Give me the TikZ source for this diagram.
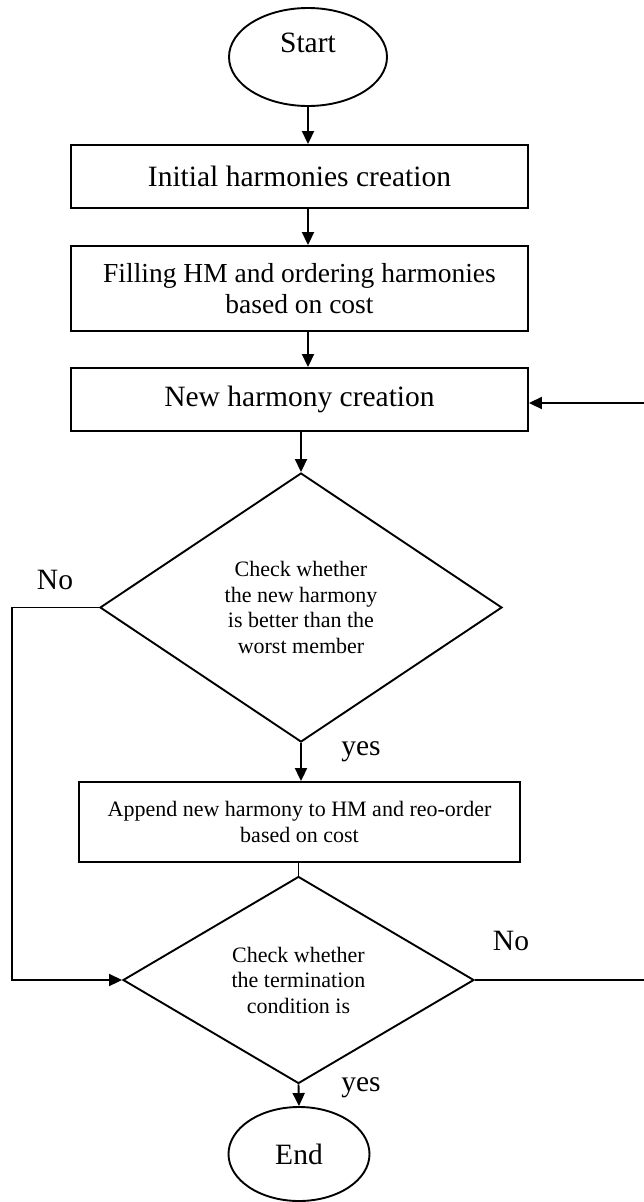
\documentclass[tikz,border=0pt]{standalone}
\usepackage{fontspec}
\setmainfont{Liberation Serif}
\usetikzlibrary{arrows.meta,positioning,shapes.geometric}
\newcommand{\fcbig}{\fontsize{29.5}{31}\selectfont}
\newcommand{\fcmid}{\fontsize{27.5}{31}\selectfont}
\newcommand{\fcsmall}{\fontsize{22}{25.5}\selectfont}
\tikzset{
  flowbox/.style={draw, line width=1.9pt, rectangle, align=center,
    minimum width=457pt, inner sep=0pt},
  termbox/.style={draw, line width=1.9pt, ellipse, inner sep=0pt},
  checkbox/.style={draw, line width=1.9pt, diamond, align=center,
    inner sep=0pt, font=\fcsmall},
  lbl/.style={font=\fcbig, anchor=base},
  arr/.style={-{Triangle[length=13pt,width=12pt]}, line width=1.9pt},
  plain/.style={line width=1.9pt}
}

\begin{document}
\begin{tikzpicture}[x=1pt, y=-1pt]
    \useasboundingbox (0,0) rectangle (644,1202);
    % terminals and steps
    \node[termbox, minimum width=158pt, minimum height=98pt] (start) at (308,57) {};
    \node[font=\fcbig] (starttext) at (308,43) {Start};
    \node[flowbox, minimum height=63pt, font=\fcbig] (init) at (299.5,176.5)
      {Initial harmonies creation};
    \node[flowbox, minimum height=85pt, font=\fcmid] (fill) at (299.5,288.5)
      {Filling HM and ordering harmonies\\based on cost};
    \node[flowbox, minimum height=63pt, font=\fcbig] (newh) at (299.5,399.5)
      {New harmony creation};
    \node[checkbox, minimum width=402pt, minimum height=269pt] (check1) at (301,607.5)
      {Check whether\\the new harmony\\is better than the\\worst member};
    \node[flowbox, minimum width=441pt, minimum height=80pt, font=\fcsmall] (app) at (299.5,822)
      {Append new harmony to HM and reo-order\\based on cost};
    \node[checkbox, minimum width=351pt, minimum height=207pt] (check2) at (298.5,980)
      {Check whether\\the termination\\condition is};
    \node[termbox, minimum width=141pt, minimum height=94pt, font=\fcbig] (end) at (299,1154) {End};
    \coordinate (loopx) at (648,0);

    % labels
    \node[lbl] (no1) at (55,589) {No};
    \node[lbl] (yes1) at (361,755) {yes};
    \node[lbl] (no2) at (511,950) {No};
    \node[lbl] (yes2) at (361,1091) {yes};

    % connectors
    \foreach \a/\b in {start/init,init/fill,fill/newh}
      \draw[arr] (\a.south -| start) -- (\b.north -| start);
    \draw[arr] (newh.south -| check1) -- (check1.north);
    \draw[arr] (check1.south) -- (check1.south |- app.north);
    \draw[plain] (app.south -| check2) -- (check2.north);
    \draw[arr] (check2.south) -- (end.north);
    \draw[arr] (check1.west) -- ++(-87,0) |- (check2.west);
    \draw[arr] (check2.east) -- (check2.east -| loopx) |- ([yshift=-3.5pt]newh.east);
  \end{tikzpicture}
\end{document}
